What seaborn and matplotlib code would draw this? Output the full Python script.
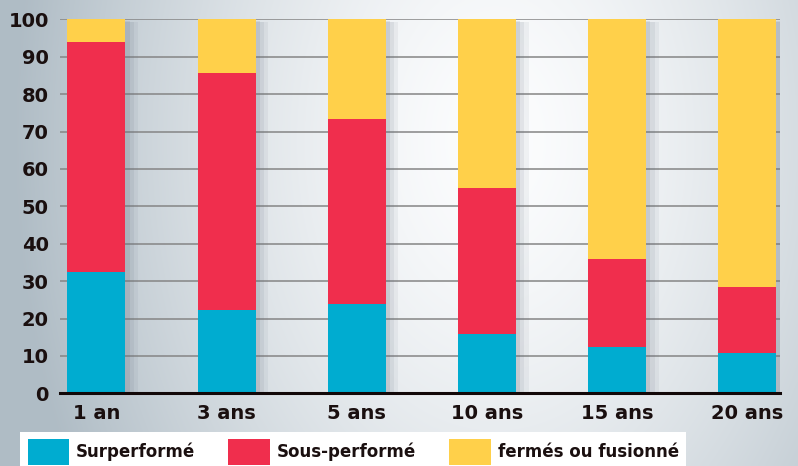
import numpy as np
import pandas as pd
import matplotlib
matplotlib.use("Agg")
import matplotlib.pyplot as plt
import matplotlib.patheffects as pe
from matplotlib.patches import Patch
import seaborn as sns

categories = ["1 an", "3 ans", "5 ans", "10 ans", "15 ans", "20 ans"]
surperforme = [32.4, 22.2, 23.9, 15.9, 12.3, 10.7]
sous_performe = [61.6, 63.5, 49.5, 39.1, 23.5, 17.6]
fermes = [6.0, 14.3, 26.6, 45.0, 64.2, 71.7]
series_labels = ["Surperformé", "Sous-performé", "fermés ou fusionné"]
colors = ["#00acd0", "#f02e4d", "#ffd04a"]
yticks = [0, 10, 20, 30, 40, 50, 60, 70, 80, 90, 100]

df = pd.DataFrame({"cat": categories,
                   "s": surperforme, "p": sous_performe, "f": fermes})
df["top_p"] = df["s"] + df["p"]
df["top_f"] = df["top_p"] + df["f"]

sns.set_theme(style="white")
plt.rcParams["font.family"] = ["DejaVu Sans"]

fig = plt.figure(figsize=(7.98, 4.66), dpi=100)

# background gradient
bg = fig.add_axes([0, 0, 1, 1], zorder=0)
H, W = 233, 399
yy, xx = np.mgrid[0:H, 0:W]
cx, cy = 0.62 * W, 0.3 * H
d = np.sqrt(((xx - cx) / (0.6 * W)) ** 2 + ((yy - cy) / (1.5 * H)) ** 2)
d = np.clip(d, 0, 1) ** 1.5
light = np.array([0.99, 0.993, 0.997])
dark = np.array([0.69, 0.74, 0.775])
img = light[None, None, :] * (1 - d[..., None]) + dark[None, None, :] * d[..., None]
bg.imshow(img, aspect="auto", extent=[0, 1, 0, 1], interpolation="bicubic")
bg.set_axis_off()

ax = fig.add_axes([60 / 798, 72.7 / 466, 720 / 798, 374 / 466], zorder=1)
ax.set_facecolor("none")

for col, c in zip(["top_f", "top_p", "s"], [colors[2], colors[1], colors[0]]):
    sns.barplot(data=df, x="cat", y=col, color=c, width=0.445,
                saturation=1, ax=ax, zorder=3)

shadow = [pe.SimplePatchShadow(offset=(9, -2), shadow_rgbFace="#667080", alpha=0.08),
          pe.SimplePatchShadow(offset=(6, -2), shadow_rgbFace="#667080", alpha=0.1),
          pe.SimplePatchShadow(offset=(3, -1), shadow_rgbFace="#667080", alpha=0.14),
          pe.Normal()]
for i, p in enumerate(ax.patches):
    p.set_edgecolor("none")
    if i < len(categories):
        p.set_path_effects(shadow)

ax.set_xlim(-0.28, 5.25)
ax.set_ylim(0, 100)
ax.set_yticks(yticks)
ax.set_yticklabels([str(t) for t in yticks])
ax.yaxis.grid(True, color="#858585", linewidth=1.1, zorder=1)
ax.set_axisbelow(True)
for s in ["top", "right", "left"]:
    ax.spines[s].set_visible(False)
ax.spines["bottom"].set_color("#120808")
ax.spines["bottom"].set_linewidth(2.2)
ax.spines["bottom"].set_zorder(5)
ax.tick_params(axis="y", length=0, pad=8, labelsize=14, labelcolor="#1a0f0f")
ax.tick_params(axis="x", length=0, pad=7.5, labelsize=14, labelcolor="#1a0f0f")
for t in ax.get_xticklabels() + ax.get_yticklabels():
    t.set_fontweight("bold")
ax.set_xlabel("")
ax.set_ylabel("")

handles = [Patch(facecolor=c, edgecolor="none") for c in colors]
leg = fig.legend(handles, series_labels, ncol=3, loc="upper left",
                 bbox_to_anchor=(20 / 798, 1 - 431.5 / 466),
                 frameon=True, fancybox=False, framealpha=1,
                 prop={"weight": "bold", "size": 12},
                 handlelength=2.5, handleheight=2.0, handletextpad=0.4,
                 columnspacing=2.0, borderpad=0.45, borderaxespad=0)
leg.get_frame().set_facecolor("white")
leg.get_frame().set_edgecolor("white")
leg.get_frame().set_linewidth(0)
for t in leg.get_texts():
    t.set_color("#1a0f0f")
leg.set_zorder(10)

fig.savefig("out.png", dpi=100)
